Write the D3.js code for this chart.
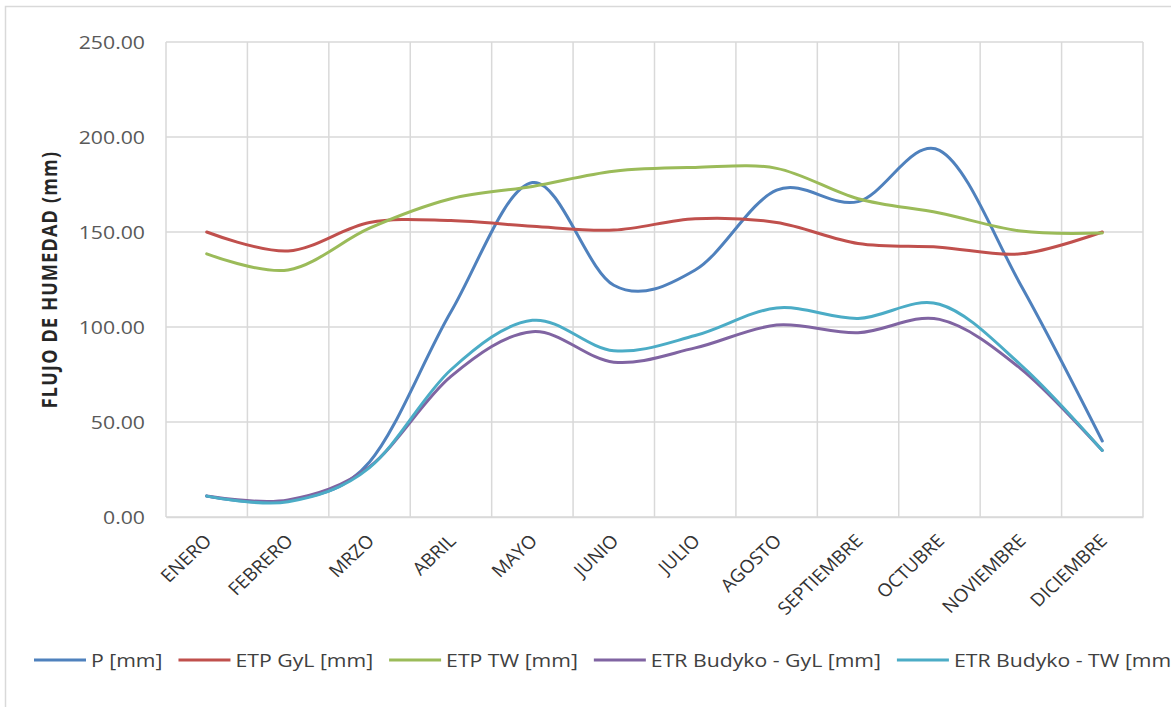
<!DOCTYPE html>
<html>
<head>
<meta charset="utf-8">
<script src="https://cdn.jsdelivr.net/npm/d3@7"></script>
<style>
  body { margin: 0; background: #fff; }
  svg { display: block; }
  text { font-family: "Open Sans", sans-serif; }
</style>
</head>
<body>
<svg id="chart" width="1171" height="707"></svg>
<script>
// Monthly moisture fluxes (mm)
const months = ["ENERO", "FEBRERO", "MRZO", "ABRIL", "MAYO", "JUNIO", "JULIO",
                "AGOSTO", "SEPTIEMBRE", "OCTUBRE", "NOVIEMBRE", "DICIEMBRE"];
const precip  = [11, 8.5, 29, 108, 176, 122, 130, 172, 166, 193, 122, 40];
const etpGyL  = [150, 140, 155, 156, 153, 151, 157, 155, 144, 142, 138.5, 150];
const etpTW   = [138.5, 130, 152, 167.5, 174, 182, 184, 183.5, 167.5, 160, 150.5, 149.5];
const etrGyL  = [11, 9, 26.5, 74, 97.5, 81.5, 89, 101, 97, 104, 78, 35];
const etrTW   = [11, 8, 26, 77.5, 103.5, 87.5, 95.5, 110, 104.5, 112, 80, 35];
const yTicks  = [0, 50, 100, 150, 200, 250];
const seriesNames  = ["P [mm]", "ETP GyL [mm]", "ETP TW [mm]", "ETR Budyko - GyL [mm]", "ETR Budyko - TW [mm]"];
const seriesColors = ["#4F81BD", "#C0504D", "#9BBB59", "#8064A2", "#4BACC6"];
const seriesValues = [precip, etpGyL, etpTW, etrGyL, etrTW];

// horizontal widening applied to lettering
const S = 1.18;
const SX = 1.06;

const svg = d3.select("#chart");
const plot = { left: 166, right: 1143, top: 42, bottom: 517 };

// outer chart frame
svg.append("rect")
  .attr("x", 5.5).attr("y", 6.5).attr("width", 1200).attr("height", 760)
  .attr("fill", "#fff").attr("stroke", "#d9d9d9").attr("stroke-width", 1.5);

const x = d3.scaleBand().domain(months).range([plot.left, plot.right]);
const y = d3.scaleLinear().domain([0, 250]).range([plot.bottom, plot.top]);
const cx = m => x(m) + x.bandwidth() / 2;

// horizontal gridlines
svg.append("g").selectAll("line").data(yTicks).join("line")
  .attr("x1", plot.left).attr("x2", plot.right)
  .attr("y1", d => y(d)).attr("y2", d => y(d))
  .attr("stroke", "#d9d9d9").attr("stroke-width", 1.5);

// vertical gridlines at category boundaries
const edges = months.map(m => x(m)).concat([plot.right]);
svg.append("g").selectAll("line").data(edges).join("line")
  .attr("x1", d => d).attr("x2", d => d)
  .attr("y1", plot.top).attr("y2", plot.bottom)
  .attr("stroke", "#d9d9d9").attr("stroke-width", 1.5);

// y axis labels
const yAxis = d3.axisLeft(y).tickValues(yTicks).tickFormat(d3.format(".2f")).tickSize(0);
const gy = svg.append("g").attr("transform", `translate(${plot.left},0)`).call(yAxis);
gy.select(".domain").remove();
gy.selectAll("text")
  .attr("fill", "#595959").style("font-size", "18px")
  .attr("x", 0).attr("dy", "0.36em")
  .attr("transform", `translate(-21,0) scale(${S},1)`);

// x axis labels, rotated
const xAxis = d3.axisBottom(x).tickSize(0).tickPadding(0);
const gx = svg.append("g").attr("transform", `translate(0,${plot.bottom})`).call(xAxis);
gx.select(".domain").attr("stroke", "#d9d9d9").attr("stroke-width", 1.5);
gx.selectAll("text")
  .attr("fill", "#333").style("font-size", "18px")
  .attr("text-anchor", "end").attr("dy", null).attr("y", 0)
  .attr("transform", `translate(6,25) scale(${SX},1) rotate(-45)`);

// axis title
svg.append("text")
  .attr("transform", `translate(57,${(plot.top + plot.bottom) / 2}) scale(${S},1) rotate(-90)`)
  .attr("text-anchor", "middle")
  .attr("fill", "#262626").style("font-size", "18px").style("font-weight", "bold")
  .style("letter-spacing", "1.2px")
  .text("FLUJO DE HUMEDAD (mm)");

// smoothed series lines
const line = d3.line()
  .x((d, i) => cx(months[i]))
  .y(d => y(d))
  .curve(d3.curveCardinal.tension(0));
svg.append("g").selectAll("path").data(seriesValues).join("path")
  .attr("d", d => line(d))
  .attr("fill", "none")
  .attr("stroke", (d, i) => seriesColors[i])
  .attr("stroke-width", 3)
  .attr("stroke-linejoin", "round").attr("stroke-linecap", "round");

// legend
const legend = svg.append("g").attr("transform", "translate(0,660)");
let lx = 34;
seriesNames.forEach((name, i) => {
  legend.append("line")
    .attr("x1", lx).attr("x2", lx + 52).attr("y1", 0).attr("y2", 0)
    .attr("stroke", seriesColors[i]).attr("stroke-width", 3);
  const t = legend.append("text")
    .attr("transform", `translate(${lx + 57},6.5) scale(${S},1)`)
    .attr("fill", "#404040").style("font-size", "18px")
    .text(name);
  lx += 57 + t.node().getComputedTextLength() * S + 16;
});
</script>
</body>
</html>
